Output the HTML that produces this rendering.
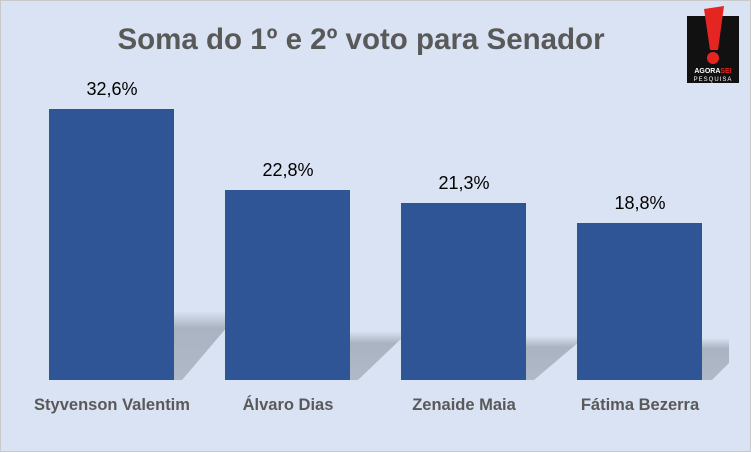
<!DOCTYPE html>
<html><head><meta charset="utf-8"><style>
body{margin:0;width:751px;height:452px;overflow:hidden;background:#fff}
.wrap{position:absolute;left:0;top:0;width:749px;height:450px;background:#dae3f3;border:1px solid #c9c9c9}
.t{position:absolute;font-family:"Liberation Sans",sans-serif;color:#595959;white-space:nowrap;transform:translateX(-50%)}
.bar{position:absolute;background:#2f5597;width:125px}
</style></head><body><div class="wrap">
<svg width="751" height="452" style="position:absolute;left:0;top:0">
<defs><linearGradient id="g" x1="0" y1="0" x2="0" y2="1"><stop offset="0" stop-color="#dae3f3"/><stop offset="0.25" stop-color="#aab3c2"/><stop offset="1" stop-color="#b0b9c8"/></linearGradient></defs>
<polygon points="173,310 227,310 227,325 181,379 173,379" fill="url(#g)"/>
<polygon points="349,330 403,330 403,335 357,379 349,379" fill="url(#g)"/>
<polygon points="525,335 579,335 579,340 533,379 525,379" fill="url(#g)"/>
<polygon points="701,337 728,337 728,362 711,379 701,379" fill="url(#g)"/>
</svg>
<div class="bar" style="left:48px;top:108px;height:271px"></div>
<div class="bar" style="left:224px;top:189px;height:190px"></div>
<div class="bar" style="left:400px;top:202px;height:177px"></div>
<div class="bar" style="left:576px;top:222px;height:157px"></div>
<div class="t" style="left:360px;top:22px;font-size:29.5px;font-weight:bold">Soma do 1º e 2º voto para Senador</div>
<div class="t" style="left:111px;top:78px;font-size:18px;color:#000">32,6%</div>
<div class="t" style="left:287px;top:159px;font-size:18px;color:#000">22,8%</div>
<div class="t" style="left:463px;top:172px;font-size:18px;color:#000">21,3%</div>
<div class="t" style="left:639px;top:192px;font-size:18px;color:#000">18,8%</div>
<div class="t" style="left:111px;top:395px;font-size:16.5px;font-weight:bold">Styvenson Valentim</div>
<div class="t" style="left:287px;top:395px;font-size:16.5px;font-weight:bold">Álvaro Dias</div>
<div class="t" style="left:463px;top:395px;font-size:16.5px;font-weight:bold">Zenaide Maia</div>
<div class="t" style="left:639px;top:395px;font-size:16.5px;font-weight:bold">Fátima Bezerra</div>
<div style="position:absolute;left:686px;top:15px;width:52px;height:67px;background:#111"></div>
<svg width="751" height="452" style="position:absolute;left:0;top:0">
<polygon points="703,8 723,5 717,49 709,49" fill="#e52521"/>
<circle cx="712" cy="57" r="6" fill="#e52521"/>
<text x="712" y="72" font-family="Liberation Sans,sans-serif" font-size="7" font-weight="bold" fill="#fff" text-anchor="middle">AGORA<tspan fill="#e52521">SEI</tspan></text>
<text x="712" y="80" font-family="Liberation Sans,sans-serif" font-size="6" fill="#fff" text-anchor="middle" letter-spacing="1">PESQUISA</text>
</svg>
</div></body></html>
